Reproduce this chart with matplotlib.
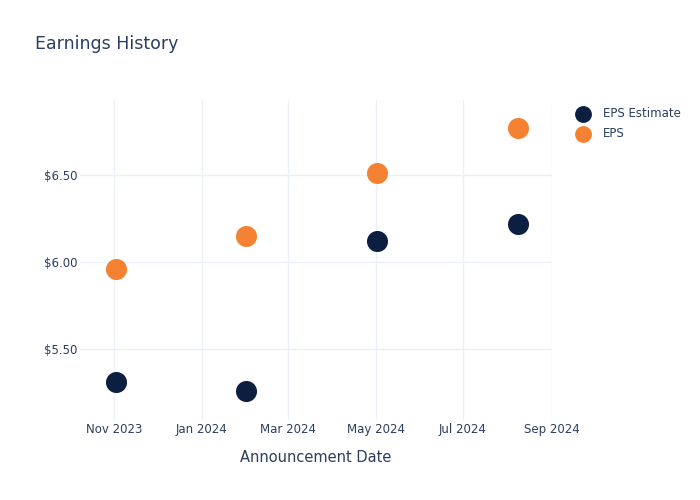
import matplotlib
matplotlib.use("Agg")
import matplotlib.pyplot as plt
from matplotlib.ticker import FuncFormatter
from datetime import datetime

dates = ["2023-11-02", "2024-02-01", "2024-05-02", "2024-08-08"]
eps_estimate = [5.31, 5.26, 6.12, 6.22]
eps_actual = [5.96, 6.15, 6.51, 6.77]
tick_dates = ["2023-11-01", "2024-01-01", "2024-03-01", "2024-05-01", "2024-07-01", "2024-09-01"]
tick_labels = ["Nov 2023", "Jan 2024", "Mar 2024", "May 2024", "Jul 2024", "Sep 2024"]
y_ticks = [5.5, 6.0, 6.5]

x = [datetime.fromisoformat(d) for d in dates]
xt = [datetime.fromisoformat(d) for d in tick_dates]

text_color = "#2a3f5f"
grid_color = "#ebf0f8"
navy = "#0c1f40"
orange = "#f58233"

plt.rcParams['font.family'] = ['DejaVu Sans']
fig = plt.figure(figsize=(7, 5), dpi=100)
ax = fig.add_axes([80/700, 80/500, 472/700, 320/500])

ax.scatter(x, eps_estimate, s=230, color=navy, label="EPS Estimate", zorder=3, linewidths=0)
ax.scatter(x, eps_actual, s=230, color=orange, label="EPS", zorder=3, linewidths=0)

ax.set_xlim(datetime(2023, 10, 8), datetime(2024, 9, 1))
ax.set_ylim(5.092, 6.931)
ax.set_xticks(xt)
ax.set_xticklabels(tick_labels)
ax.set_yticks(y_ticks)
ax.yaxis.set_major_formatter(FuncFormatter(lambda v, p: f"${v:.2f}"))

for s in ax.spines.values():
    s.set_visible(False)
ax.grid(True, color=grid_color, linewidth=1)
ax.set_axisbelow(True)
ax.tick_params(axis='both', length=0, colors=text_color, labelsize=8.5)
ax.tick_params(axis='x', pad=2)
ax.tick_params(axis='y', pad=2)

ax.set_xlabel("Announcement Date", color=text_color, fontsize=10.5, labelpad=10)
fig.text(35/700, 1 - 44/500, "Earnings History", color=text_color, fontsize=12.5, va='center', ha='left')

leg = ax.legend(loc='upper left', bbox_to_anchor=(566/700, 1 - 102/500), bbox_transform=fig.transFigure,
                frameon=False, fontsize=8.5, labelcolor=text_color, handletextpad=0.7,
                labelspacing=0.65, markerscale=0.8, borderaxespad=0)

fig.savefig("out.png", dpi=100, facecolor="white")
